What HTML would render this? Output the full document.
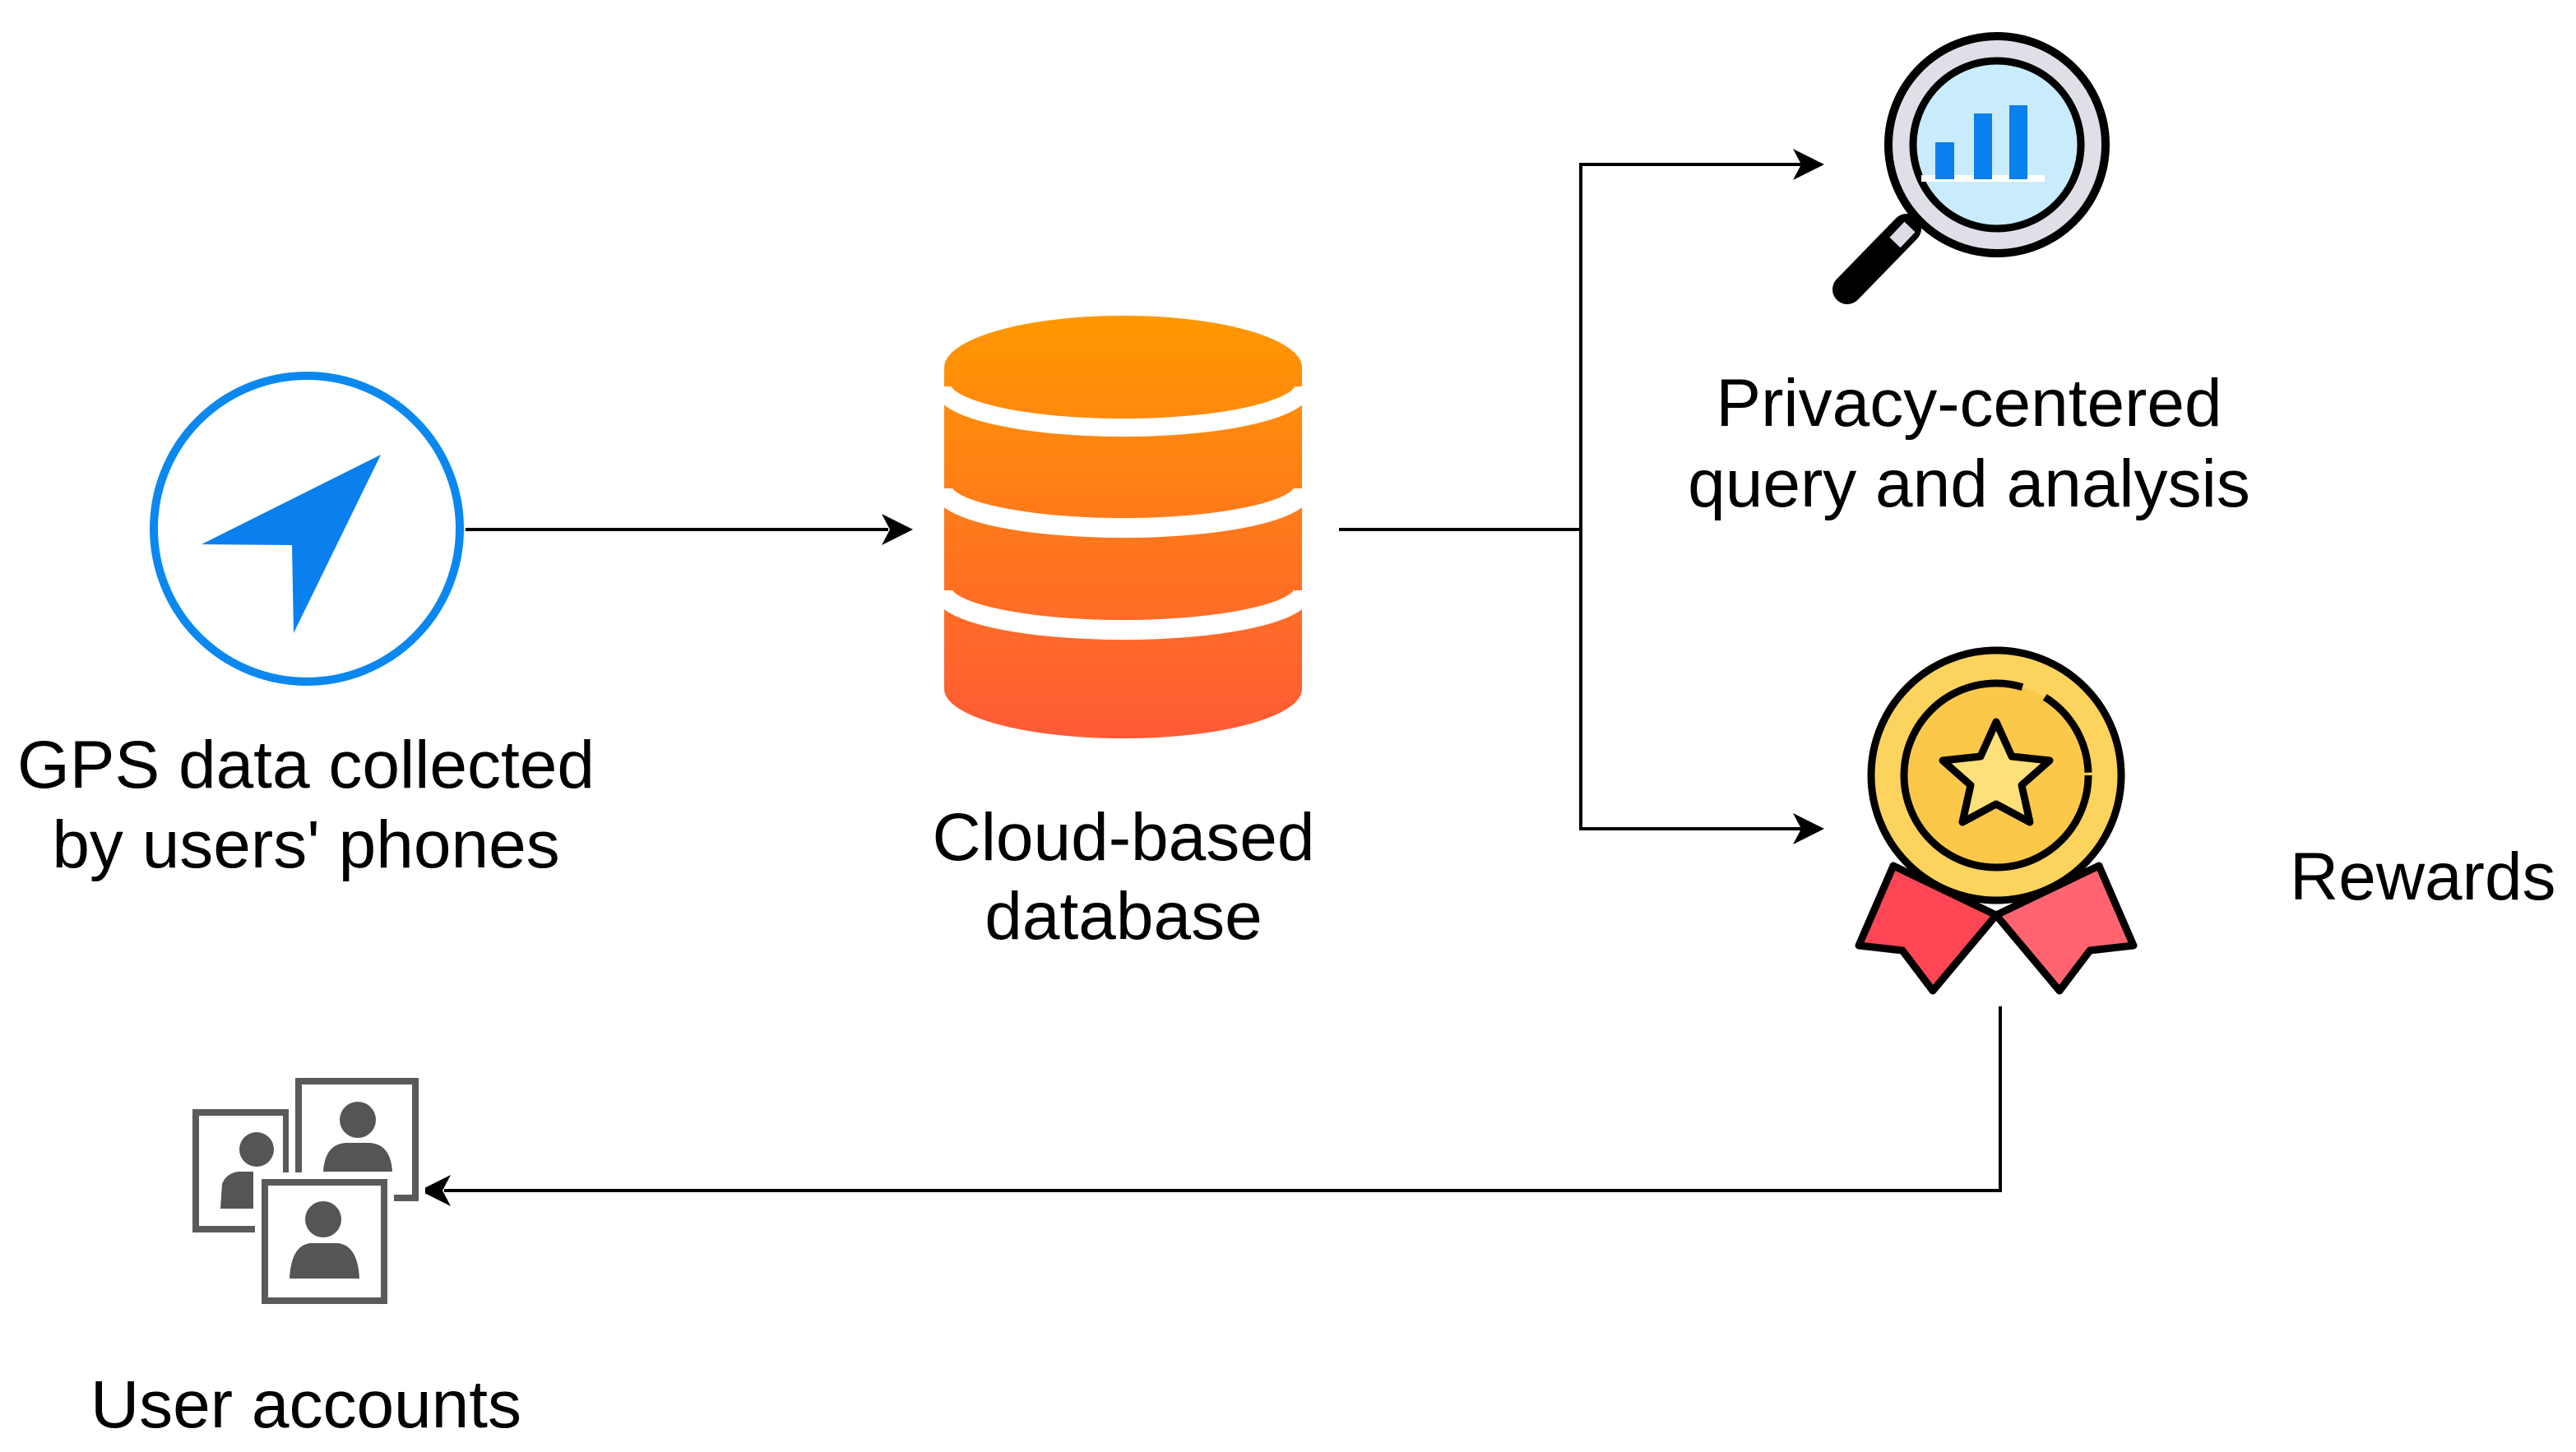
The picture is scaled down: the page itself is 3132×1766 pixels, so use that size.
<!DOCTYPE html>
<html><head><meta charset="utf-8"><style>
html,body{margin:0;padding:0;background:#fff;}
svg{display:block;}
text{font-family:"Liberation Sans",Arial,sans-serif;font-size:82px;fill:#000;}
</style></head><body>
<svg width="3132" height="1766" viewBox="0 0 3132 1766" xmlns="http://www.w3.org/2000/svg">
<defs>
<linearGradient id="og" x1="0" y1="0" x2="0" y2="1">
<stop offset="0" stop-color="#ff9800"/><stop offset="1" stop-color="#ff5a36"/>
</linearGradient>
</defs>

<!-- GPS -->
<circle cx="373" cy="643" r="186" fill="#fff" stroke="#0a88f0" stroke-width="10"/>
<polygon points="463,553 245,662 355,663 357,770" fill="#0a80ee"/>

<!-- connector GPS -> DB -->
<line x1="566" y1="644" x2="1080" y2="644" stroke="#000" stroke-width="4"/>
<path d="M1110,644 L1072,625 L1082,644 L1072,663 Z" fill="#000"/>

<!-- Database -->
<path d="M1148,447 A217,63 0 0 1 1583,447 L1583,838 A217,60 0 0 1 1148,838 Z" fill="url(#og)"/>
<path d="M1146,470 A219,50 0 0 0 1585,470" fill="none" stroke="#fff" stroke-width="22"/>
<path d="M1146,594 A219,48 0 0 0 1585,594" fill="none" stroke="#fff" stroke-width="24"/>
<path d="M1146,718 A219,48 0 0 0 1585,718" fill="none" stroke="#fff" stroke-width="24"/>

<!-- connectors DB -> split -->
<polyline points="1628,644 1922,644" fill="none" stroke="#000" stroke-width="4"/>
<polyline points="2190,200 1922,200 1922,1008 2190,1008" fill="none" stroke="#000" stroke-width="4"/>
<path d="M2218,200 L2180,181 L2190,200 L2180,219 Z" fill="#000"/>
<path d="M2218,1008 L2180,989 L2190,1008 L2180,1027 Z" fill="#000"/>

<!-- Magnifier -->
<line x1="2318" y1="278" x2="2246" y2="352" stroke="#000" stroke-width="36" stroke-linecap="round"/>
<line x1="2322" y1="276" x2="2304" y2="295" stroke="#dcdce4" stroke-width="18"/>
<circle cx="2428" cy="176" r="132" fill="#dfdfe8" stroke="#000" stroke-width="10"/>
<circle cx="2428" cy="176" r="102" fill="#c9ecfc" stroke="#000" stroke-width="9"/>
<rect x="2336" y="213" width="150" height="8" fill="#fff"/>
<rect x="2353" y="173" width="23" height="45" fill="#0a80ee"/>
<rect x="2400" y="138" width="22" height="80" fill="#0a80ee"/>
<rect x="2443" y="128" width="22" height="90" fill="#0a80ee"/>

<text x="2394" y="518" text-anchor="middle">Privacy-centered</text>
<text x="2394" y="616" text-anchor="middle">query and analysis</text>

<!-- Medal -->
<polygon points="2302,1053 2260,1150 2313,1156 2350,1205 2427,1113" fill="#ff4654" stroke="#000" stroke-width="9" stroke-linejoin="round"/>
<polygon points="2552,1053 2594,1150 2541,1156 2504,1205 2427,1113" fill="#ff6470" stroke="#000" stroke-width="9" stroke-linejoin="round"/>
<circle cx="2427" cy="943" r="152" fill="#fcd35c" stroke="#000" stroke-width="9"/>
<circle cx="2427" cy="943" r="112" fill="#fbc84a" stroke="#000" stroke-width="9" stroke-dasharray="560 30 110 40"/>
<polygon points="2427,878 2446,920 2492,925 2458,955 2468,1000 2427,978 2386,1000 2396,955 2362,925 2408,920" fill="#fde07a" stroke="#000" stroke-width="9" stroke-linejoin="round"/>

<text x="2784" y="1094">Rewards</text>

<!-- connector Rewards -> users -->
<polyline points="2432,1224 2432,1448 540,1448" fill="none" stroke="#000" stroke-width="4"/>
<path d="M510,1448 L548,1429 L538,1448 L548,1467 Z" fill="#000"/>

<!-- Users icon -->
<g stroke-linejoin="miter">
<rect x="238" y="1353" width="110" height="142" fill="#fff"/>
<rect x="238" y="1353" width="110" height="142" fill="none" stroke="#5a5a5a" stroke-width="8"/>
<circle cx="312" cy="1398" r="21" fill="#555"/>
<path d="M268,1470 L270,1440 Q275,1427 290,1425 L308,1425 L308,1470 Z" fill="#555"/>
<rect x="363" y="1315" width="142" height="142" fill="#fff" stroke="#fff" stroke-width="24"/>
<rect x="363" y="1315" width="142" height="142" fill="#fff" stroke="#5a5a5a" stroke-width="8"/>
<circle cx="435" cy="1362" r="22" fill="#555"/>
<path d="M393,1425 Q395,1392 420,1390 L450,1390 Q475,1392 477,1425 Z" fill="#555"/>
<rect x="322" y="1438" width="145" height="144" fill="#fff" stroke="#fff" stroke-width="24"/>
<rect x="322" y="1438" width="145" height="144" fill="#fff" stroke="#5a5a5a" stroke-width="8"/>
<circle cx="393" cy="1483" r="22" fill="#555"/>
<path d="M352,1555 Q354,1514 378,1512 L410,1512 Q435,1514 437,1555 Z" fill="#555"/>
</g>

<text x="372" y="958" text-anchor="middle">GPS data collected</text>
<text x="372" y="1055" text-anchor="middle">by users' phones</text>
<text x="1366" y="1046" text-anchor="middle">Cloud-based</text>
<text x="1366" y="1142" text-anchor="middle">database</text>
<text x="372" y="1736" text-anchor="middle">User accounts</text>
</svg>
</body></html>
